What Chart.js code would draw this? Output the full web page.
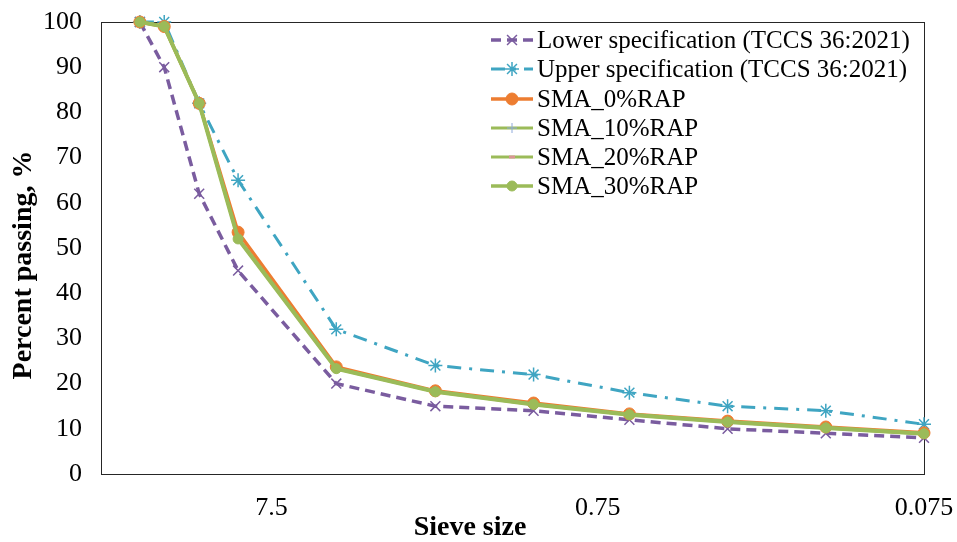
<!DOCTYPE html>
<html>
<head>
<meta charset="utf-8">
<script src="https://cdn.jsdelivr.net/npm/chart.js@4.4.1/dist/chart.umd.min.js"></script>
<style>
  html, body { margin: 0; padding: 0; background: #fff; }
  #wrap { width: 957px; height: 542px; }
</style>
</head>
<body>
<div id="wrap"><canvas id="chart" width="957" height="542"></canvas></div>
<script>
// sieve sizes (mm), log axis, largest on the left
const sieveSizes = [19, 16, 12.5, 9.5, 4.75, 2.36, 1.18, 0.6, 0.3, 0.15, 0.075];
const xTickValues = [7.5, 0.75, 0.075];

const lowerSpec = [100, 90, 62, 45, 20, 15, 14, 12, 10, 9, 8];
const upperSpec = [100, 100, 82, 65, 32, 24, 22, 18, 15, 14, 11];
const sma0 = [100, 99, 82, 53.5, 23.7, 18.4, 15.7, 13.3, 11.7, 10.4, 9.1];
const sma10 = [100, 99, 82, 52.3, 23.4, 18.3, 15.5, 13.2, 11.6, 10.3, 9.0];
const sma20 = [100, 99, 82, 52.1, 23.3, 18.2, 15.4, 13.1, 11.5, 10.2, 8.9];
const sma30 = [100, 99, 82, 52.0, 23.3, 18.2, 15.4, 13.1, 11.5, 10.2, 8.9];

const seriesNames = [
  "Lower specification (TCCS 36:2021)",
  "Upper specification (TCCS 36:2021)",
  "SMA_0%RAP",
  "SMA_10%RAP",
  "SMA_20%RAP",
  "SMA_30%RAP"
];

function pts(vals) {
  return vals.map((v, i) => ({ x: sieveSizes[i], y: v }));
}

const serif = "'Liberation Serif', 'Times New Roman', serif";

const datasets = [
  { label: seriesNames[0], data: pts(lowerSpec), borderColor: "#7a5c9f", borderWidth: 3.5, borderDash: [10, 6],
    pointStyle: "crossRot", pointRadius: 7, pointBorderWidth: 1.5, pointBorderColor: "#7a5c9f", pointBackgroundColor: "#7a5c9f", order: 6 },
  { label: seriesNames[1], data: pts(upperSpec), borderColor: "#3fa5c2", borderWidth: 3, borderDash: [14, 8, 3, 8],
    pointStyle: "star", pointRadius: 7, pointBorderWidth: 1.5, pointBorderColor: "#3fa5c2", pointBackgroundColor: "#3fa5c2", order: 5 },
  { label: seriesNames[2], data: pts(sma0), borderColor: "#ed7d31", borderWidth: 3.5,
    pointStyle: "circle", pointRadius: 6, pointBorderWidth: 1, pointBorderColor: "#ed7d31", pointBackgroundColor: "#ed7d31", order: 4 },
  { label: seriesNames[3], data: pts(sma10), borderColor: "#9bbb59", borderWidth: 3,
    pointStyle: "cross", pointRadius: 5, pointBorderWidth: 1, pointBorderColor: "#8faadc", pointBackgroundColor: "#8faadc", order: 3 },
  { label: seriesNames[4], data: pts(sma20), borderColor: "#9bbb59", borderWidth: 3,
    pointStyle: "line", pointRadius: 3, pointBorderWidth: 3, pointBorderColor: "#d99694", pointBackgroundColor: "#d99694", order: 2 },
  { label: seriesNames[5], data: pts(sma30), borderColor: "#9bbb59", borderWidth: 4,
    pointStyle: "circle", pointRadius: 5, pointBorderWidth: 1, pointBorderColor: "#9bbb59", pointBackgroundColor: "#9bbb59", order: 1 }
];

// no extra room for overflowing tick labels, keep plot area fixed
function fixBox(scale, size) {
  if (scale.isHorizontal()) scale.height = size; else scale.width = size;
  scale.paddingTop = 0;
  scale.paddingBottom = 0;
  scale.paddingLeft = 0;
  scale.paddingRight = 0;
}

// frame, axis titles and the legend inside the plot
const extras = {
  id: "extras",
  beforeDatasetsDraw(chart) {
    const ctx = chart.ctx, a = chart.chartArea;
    ctx.save();
    ctx.strokeStyle = "#262626";
    ctx.lineWidth = 1;
    ctx.strokeRect(Math.round(a.left) + 0.5, Math.round(a.top) + 0.5, Math.round(a.right - a.left), Math.round(a.bottom - a.top));
    ctx.restore();
  },
  afterDraw(chart) {
    const ctx = chart.ctx;
    ctx.save();
    ctx.fillStyle = "#000";
    ctx.font = "bold 28px " + serif;
    ctx.textAlign = "center";
    ctx.textBaseline = "middle";
    ctx.fillText("Sieve size", 470, 528);
    ctx.translate(24, 265);
    ctx.rotate(-Math.PI / 2);
    ctx.fillText("Percent passing, %", 0, 0);
    ctx.restore();

    // legend
    const x0 = 491, x1 = 533, tx = 537;
    const rowY = [40, 69, 99, 128, 157, 186];
    chart.data.datasets.forEach((ds, i) => {
      const y = rowY[i];
      ctx.save();
      ctx.strokeStyle = ds.borderColor;
      ctx.lineWidth = Math.min(ds.borderWidth, 3.5);
      ctx.setLineDash(ds.borderDash || []);
      ctx.beginPath();
      ctx.moveTo(x0, y);
      ctx.lineTo(x1, y);
      ctx.stroke();
      ctx.setLineDash([]);
      ctx.strokeStyle = ds.pointBorderColor;
      ctx.fillStyle = ds.pointBackgroundColor;
      ctx.lineWidth = ds.pointBorderWidth;
      Chart.helpers.drawPoint(ctx, { pointStyle: ds.pointStyle, radius: ds.pointRadius, rotation: 0, borderWidth: ds.pointBorderWidth }, (x0 + x1) / 2, y);
      ctx.fillStyle = "#000";
      ctx.font = "25px " + serif;
      ctx.textAlign = "left";
      ctx.textBaseline = "middle";
      ctx.fillText(ds.label, tx, y + 1);
      ctx.restore();
    });
  }
};

new Chart(document.getElementById("chart").getContext("2d"), {
  type: "line",
  data: { datasets: datasets },
  options: {
    responsive: false,
    animation: false,
    layout: { padding: { top: 22, right: 33, left: 0, bottom: 0 } },
    elements: { line: { tension: 0, fill: false } },
    datasets: { line: { clip: false } },
    plugins: { legend: { display: false }, tooltip: { enabled: false } },
    scales: {
      x: {
        type: "logarithmic",
        reverse: true,
        min: 0.075,
        max: 25,
        grid: { display: false, drawTicks: false },
        border: { display: true, color: "#262626", width: 1 },
        afterBuildTicks(scale) {
          scale.ticks = xTickValues.map(v => ({ value: v }));
        },
        afterFit(scale) { fixBox(scale, 68); },
        ticks: {
          autoSkip: false,
          maxRotation: 0,
          padding: 19,
          color: "#000",
          font: { family: serif, size: 26 },
          callback: (v) => String(v)
        }
      },
      y: {
        min: 0,
        max: 100,
        grid: { display: false, drawTicks: false },
        border: { display: true, color: "#262626", width: 1 },
        afterFit(scale) { fixBox(scale, 101); },
        ticks: {
          stepSize: 10,
          padding: 19,
          color: "#000",
          font: { family: serif, size: 26 }
        }
      }
    }
  },
  plugins: [extras]
});
</script>
</body>
</html>
